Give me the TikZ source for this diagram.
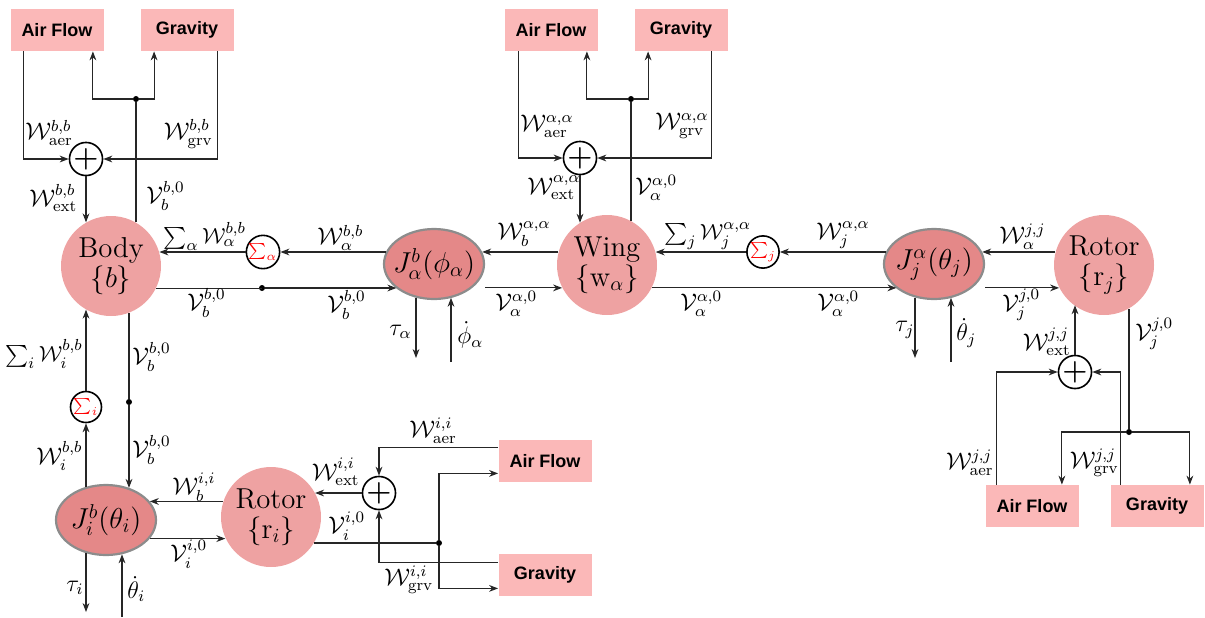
\documentclass[tikz,border=0pt]{standalone}
\usepackage{fontspec}
\usepackage{amsmath}
\newfontfamily\boxfont{Liberation Sans}
\usetikzlibrary{shapes.geometric,arrows.meta}
\definecolor{boxpink}{RGB}{251,184,184}
\definecolor{bodypink}{RGB}{238,162,162}
\definecolor{jointred}{RGB}{228,136,136}
\tikzset{
  wire/.style={line width=0.55pt, black!85},
  srcbox/.style={fill=boxpink, minimum width=46.5pt, minimum height=21pt, inner sep=0pt, font=\boxfont\small\bfseries},
  bodynode/.style={circle, fill=bodypink, minimum size=50pt, inner sep=0pt, align=center, font=\Large},
  jointnode/.style={ellipse, fill=jointred, draw=black!45, line width=1.1pt, minimum width=50pt, minimum height=35pt, inner sep=0pt, font=\Large},
  sumnode/.style={circle, draw, line width=0.8pt, minimum size=15.5pt, inner sep=0pt, font=\footnotesize, text=red},
  plusnode/.style={circle, draw, line width=0.8pt, minimum size=16pt, inner sep=0pt, font=\Large},
  junc/.style={circle, fill, inner sep=0pt, minimum size=3pt},
  lbl/.style={inner sep=0pt, anchor=west, font=\large},
  sumlbl/.style={lbl, font=\fontsize{10.95}{13}\selectfont}
}
\begin{document}
\begin{tikzpicture}[x=0.5pt, y=-0.5pt, >={Stealth[length=4.5pt,width=3.4pt]}]
    \useasboundingbox (0,0) rectangle (1205,617);
    % Body with its own air flow and gravity
    \node[srcbox] (af1) at (57,30) {Air Flow};
    \node[srcbox] (gr1) at (187,30) {Gravity};
    \node[junc] (d1) at (136,99) {};
    \node[plusnode] (p1) at (86,159) {$\boldsymbol{+}$};
    \node[bodynode] (body) at (111,266) {Body\\[-3pt]$\{b\}$};
    \draw[wire,->] (d1) -| ([xshift=-5.5pt]af1.south east);
    \draw[wire,->] (d1) -| ([xshift=7pt]gr1.south west);
    \draw[wire] (d1 |- body.60) -- (d1);
    \draw[wire,->] ([xshift=6.5pt]af1.south west) |- (p1.west);
    \draw[wire,->] ([xshift=-8pt]gr1.south east) |- (p1.east);
    \draw[wire,->] (p1.south) -- (p1 |- body.120);
    \node[lbl] (waer1) at (25,133) {$\mathcal{W}^{b,b}_{\mathrm{aer}}$};
    \node[lbl, anchor=east] (wgrv1) at (213,134) {$\mathcal{W}^{b,b}_{\mathrm{grv}}$};
    \node[lbl] (wext1) at (29,198) {$\mathcal{W}^{b,b}_{\mathrm{ext}}$};
    \node[lbl] (vb1) at (146,196) {$\mathcal{V}^{b,0}_{b}$};

    % Joint body-wing
    \node[sumnode] (sa) at (263,252) {$\sum_\alpha$};
    \node[junc] (d3) at (262,288) {};
    \node[jointnode] (ja) at (434,264) {\makebox[0pt]{$J^b_\alpha(\phi_\alpha)$}};
    \draw[wire,->] (ja.166) -- (ja.166 -| sa.east);
    \draw[wire,->] (sa.west) -- (sa.west -| body.16);
    \draw[wire] (body.-26) -- (body.-26 -| d3);
    \draw[wire,->] (d3) -- (d3 -| ja.213);
    \coordinate (taue) at (416,358);
    \coordinate (phis) at (451,362);
    \draw[wire,->] (taue |- ja.241) -- (taue);
    \draw[wire,->] (phis) -- (phis |- ja.-62);
    \node[sumlbl] (sumwa) at (163,236) {$\sum_\alpha \mathcal{W}^{b,b}_\alpha$};
    \node[lbl] (vb2) at (187,303) {$\mathcal{V}^{b,0}_{b}$};
    \node[lbl] (vb3) at (327,305) {$\mathcal{V}^{b,0}_{b}$};
    \node[lbl] (wab) at (317,238) {$\mathcal{W}^{b,b}_\alpha$};
    \node[lbl] (taua) at (389,332) {$\tau_\alpha$};
    \node[lbl] (phia) at (457,335) {$\dot{\phi}_\alpha$};

    % Wing with its own air flow and gravity
    \node[srcbox] (af2) at (551,30) {Air Flow};
    \node[srcbox] (gr2) at (681,30) {Gravity};
    \node[junc] (d2) at (631,99) {};
    \node[plusnode] (p2) at (580,158) {$\boldsymbol{+}$};
    \node[bodynode] (wing) at (607,265) {Wing\\[-3pt]$\{\mathrm{w}_\alpha\}$};
    \draw[wire,->] (d2) -| ([xshift=-5.5pt]af2.south east);
    \draw[wire,->] (d2) -| ([xshift=7pt]gr2.south west);
    \draw[wire] (d2 |- wing.61) -- (d2);
    \draw[wire,->] ([xshift=7pt]af2.south west) |- (p2.west);
    \draw[wire,->] ([xshift=-8pt]gr2.south east) |- (p2.east);
    \draw[wire,->] (p2.south) -- (p2 |- wing.123);
    \draw[wire,->] (wing.165) -- (wing.165 -| ja.14);
    \draw[wire,->] (ja.east |- wing.207) -- (wing.207);
    \node[lbl] (waer2) at (520,126) {$\mathcal{W}^{\alpha,\alpha}_{\mathrm{aer}}$};
    \node[lbl, anchor=east] (wgrv2) at (709,126) {$\mathcal{W}^{\alpha,\alpha}_{\mathrm{grv}}$};
    \node[lbl] (wext2) at (527,188) {$\mathcal{W}^{\alpha,\alpha}_{\mathrm{ext}}$};
    \node[lbl] (va1) at (635,188) {$\mathcal{V}^{\alpha,0}_{\alpha}$};
    \node[lbl] (wba) at (497,234) {$\mathcal{W}^{\alpha,\alpha}_{b}$};
    \node[lbl] (va2) at (495,304) {$\mathcal{V}^{\alpha,0}_{\alpha}$};

    % Joint wing-rotor
    \node[sumnode] (sj) at (763,252) {$\sum_j$};
    \node[jointnode] (jj) at (934,264) {\makebox[0pt]{$J^\alpha_j(\theta_j)$}};
    \draw[wire,->] (sj.west) -- (sj.west -| wing.15);
    \draw[wire,->] (jj.166) -- (jj.166 -| sj.east);
    \draw[wire,->] (wing.-27) -- (wing.-27 -| jj.213);
    \coordinate (tauje) at (915,358);
    \coordinate (thjs) at (951,362);
    \draw[wire,->] (tauje |- jj.241) -- (tauje);
    \draw[wire,->] (thjs) -- (thjs |- jj.-62);
    \node[sumlbl] (sumwj) at (664,236) {$\sum_j \mathcal{W}^{\alpha,\alpha}_j$};
    \node[lbl] (va3) at (680,304) {$\mathcal{V}^{\alpha,0}_{\alpha}$};
    \node[lbl] (wja) at (816,235) {$\mathcal{W}^{\alpha,\alpha}_{j}$};
    \node[lbl] (va4) at (817,304) {$\mathcal{V}^{\alpha,0}_{\alpha}$};
    \node[lbl] (tauj) at (895,330) {$\tau_j$};
    \node[lbl] (thj) at (956,333) {$\dot{\theta}_j$};

    % Rotor on the wing
    \node[bodynode] (rj) at (1104,265) {Rotor\\[-3pt]$\{\mathrm{r}_j\}$};
    \node[plusnode] (p4) at (1075,372) {$\boldsymbol{+}$};
    \node[junc] (d4) at (1129,432) {};
    \node[srcbox] (af4) at (1032,506) {Air Flow};
    \node[srcbox] (gr4) at (1157,506) {Gravity};
    \draw[wire,->] (rj.165) -- (rj.165 -| jj.14);
    \draw[wire,->] (jj.east |- rj.207) -- (rj.207);
    \draw[wire,->] (p4.north) -- (p4 |- rj.233);
    \draw[wire] (d4 |- rj.-60) -- (d4);
    \draw[wire,->] (d4) -| ([xshift=-8.5pt]af4.north east);
    \draw[wire,->] (d4) -| ([xshift=-7pt]gr4.north east);
    \draw[wire,->] ([xshift=5.5pt]af4.north west) |- (p4.west);
    \draw[wire,->] ([xshift=5pt]gr4.north west) |- (p4.east);
    \node[lbl] (wjj) at (999,237) {$\mathcal{W}^{j,j}_{\alpha}$};
    \node[lbl] (vj1) at (1002,305) {$\mathcal{V}^{j,0}_{j}$};
    \node[lbl, anchor=east] (wext4) at (1071,342) {$\mathcal{W}^{j,j}_{\mathrm{ext}}$};
    \node[lbl] (vj2) at (1135,334) {$\mathcal{V}^{j,0}_{j}$};
    \node[lbl, anchor=east] (waer4) at (994,463) {$\mathcal{W}^{j,j}_{\mathrm{aer}}$};
    \node[lbl, anchor=east] (wgrv4) at (1119,463) {$\mathcal{W}^{j,j}_{\mathrm{grv}}$};

    % Joint body-rotor
    \node[sumnode] (si) at (86,407) {$\sum_i$};
    \node[junc] (d5) at (129,402) {};
    \node[jointnode] (ji) at (106,520) {\makebox[0pt]{$J^b_i(\theta_i)$}};
    \node[bodynode] (ri) at (271,517) {Rotor\\[-3pt]$\{\mathrm{r}_i\}$};
    \draw[wire,->] (si.north) -- (si |- body.240);
    \draw[wire,->] (si |- ji.121) -- (si.south);
    \draw[wire] (d5 |- body.-69) -- (d5);
    \draw[wire,->] (d5) -- (d5 |- ji.54);
    \draw[wire,->] (ri.162) -- (ri.162 -| ji.23);
    \draw[wire,->] (ji.-23) -- (ji.-23 -| ri.205);
    \coordinate (tauie) at (86,612);
    \coordinate (this) at (122,617);
    \draw[wire,->] (tauie |- ji.240) -- (tauie);
    \draw[wire,->] (this) -- (this |- ji.-65);
    \node[sumlbl, anchor=east] (sumwi) at (83,354) {$\sum_i \mathcal{W}^{b,b}_i$};
    \node[lbl] (vb4) at (132,357) {$\mathcal{V}^{b,0}_{b}$};
    \node[lbl] (vb5) at (132,450) {$\mathcal{V}^{b,0}_{b}$};
    \node[lbl] (wib) at (36,456) {$\mathcal{W}^{b,b}_{i}$};
    \node[lbl] (wbi) at (172,487) {$\mathcal{W}^{i,i}_{b}$};
    \node[lbl] (vii) at (170,554) {$\mathcal{V}^{i,0}_{i}$};
    \node[lbl] (taui) at (66,588) {$\tau_i$};
    \node[lbl] (thi) at (127,589) {$\dot{\theta}_i$};

    % Rotor on the body with its own air flow and gravity
    \node[plusnode] (p3) at (379,493) {$\boldsymbol{+}$};
    \node[junc] (d6) at (439,543) {};
    \node[srcbox] (af3) at (545,461) {Air Flow};
    \node[srcbox] (gr3) at (545,575) {Gravity};
    \draw[wire,->] (p3.west) -- (p3.west -| ri.29);
    \draw[wire] (d6 -| ri.-31) -- (d6);
    \draw[wire,->] (d6) |- ([yshift=4.5pt]af3.south west);
    \draw[wire,->] (d6) |- ([yshift=4pt]gr3.south west);
    \draw[wire,->] ([yshift=-4pt]af3.north west) -| (p3.north);
    \draw[wire,->] ([yshift=-4.5pt]gr3.north west) -| (p3.south);
    \node[lbl] (waer3) at (409,431) {$\mathcal{W}^{i,i}_{\mathrm{aer}}$};
    \node[lbl, anchor=east] (wext3) at (360,472) {$\mathcal{W}^{i,i}_{\mathrm{ext}}$};
    \node[lbl] (vii2) at (328,526) {$\mathcal{V}^{i,0}_{i}$};
    \node[lbl] (wgrv3) at (384,580) {$\mathcal{W}^{i,i}_{\mathrm{grv}}$};
\end{tikzpicture}
\end{document}
